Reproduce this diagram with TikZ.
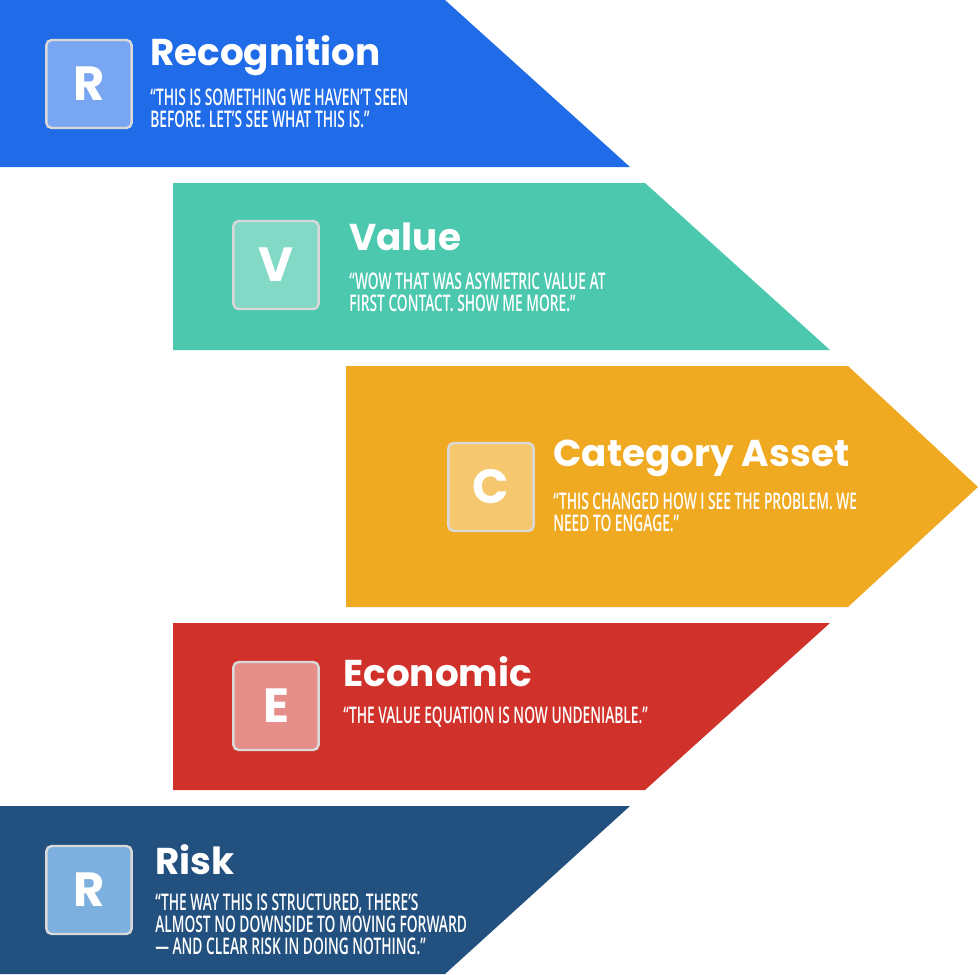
\documentclass[tikz,border=0pt]{standalone}
\usepackage{fontspec}
\newfontfamily\titlefont{Poppins}[UprightFont=* Bold]
\newfontfamily\quotefont{Open Sans}[FakeStretch=0.6,UprightFont=* Semibold]
\definecolor{cblue}{HTML}{1F6BE8}
\definecolor{cteal}{HTML}{4BC8AE}
\definecolor{cyel}{HTML}{F0AA22}
\definecolor{cred}{HTML}{D0322B}
\definecolor{cnavy}{HTML}{22507F}
\definecolor{inavy}{HTML}{7DB0DE}
\tikzset{
 icon/.style={draw=white!85!black,line width=1.8pt,rounded corners=4pt,minimum width=64pt,minimum height=66pt,inner sep=0pt,font=\titlefont\fontsize{36}{36}\selectfont,text=white},
 ttl/.style={anchor=west,inner sep=0pt,text=white,font=\titlefont\fontsize{28}{28}\selectfont},
 qt/.style={anchor=north west,inner sep=0pt,text=white,align=left,font=\quotefont\fontsize{17.2}{16.5}\selectfont}
}
\begin{document}
\begin{tikzpicture}[x=0.75pt,y=-0.75pt]
\useasboundingbox (0,0) rectangle (980,974);
\fill[cblue] (0,0) -- (445,0) -- (630,167) -- (0,167) -- cycle;
\fill[cteal] (173,183) -- (645,183) -- (830,350) -- (173,350) -- cycle;
\fill[cyel] (346,366) -- (848,366) -- (978,487) -- (848,607) -- (346,607) -- cycle;
\fill[cred] (173,623) -- (830,623) -- (645,790) -- (173,790) -- cycle;
\fill[cnavy] (0,806) -- (630,806) -- (445,974) -- (0,974) -- cycle;
\node[icon,fill=white!40!cblue] (i1) at (89,84) {R};
\node[ttl] (t1) at (150,56) {Recognition};
\node[qt] (q1) at (150,89) {“THIS IS SOMETHING WE HAVEN’T SEEN\\BEFORE. LET’S SEE WHAT THIS IS.”};
\node[icon,fill=white!30!cteal] (i2) at (276,265) {V};
\node[ttl] (t2) at (349,237) {Value};
\node[qt] (q2) at (349,273) {“WOW THAT WAS ASYMETRIC VALUE AT\\FIRST CONTACT. SHOW ME MORE.”};
\node[icon,fill=white!35!cyel] (i3) at (491,487) {C};
\node[ttl] (t3) at (553,458) {Category Asset};
\node[qt] (q3) at (553,493) {“THIS CHANGED HOW I SEE THE PROBLEM. WE\\NEED TO ENGAGE.”};
\node[icon,fill=white!45!cred] (i4) at (276,706) {E};
\node[ttl] (t4) at (343,672) {Economic};
\node[qt] (q4) at (343,707) {“THE VALUE EQUATION IS NOW UNDENIABLE.”};
\node[icon,fill=inavy] (i5) at (89,890) {R};
\node[ttl] (t5) at (155,860) {Risk};
\node[qt] (q5) at (155,894) {“THE WAY THIS IS STRUCTURED, THERE’S\\ALMOST NO DOWNSIDE TO MOVING FORWARD\\— AND CLEAR RISK IN DOING NOTHING.”};
\end{tikzpicture}
\end{document}
